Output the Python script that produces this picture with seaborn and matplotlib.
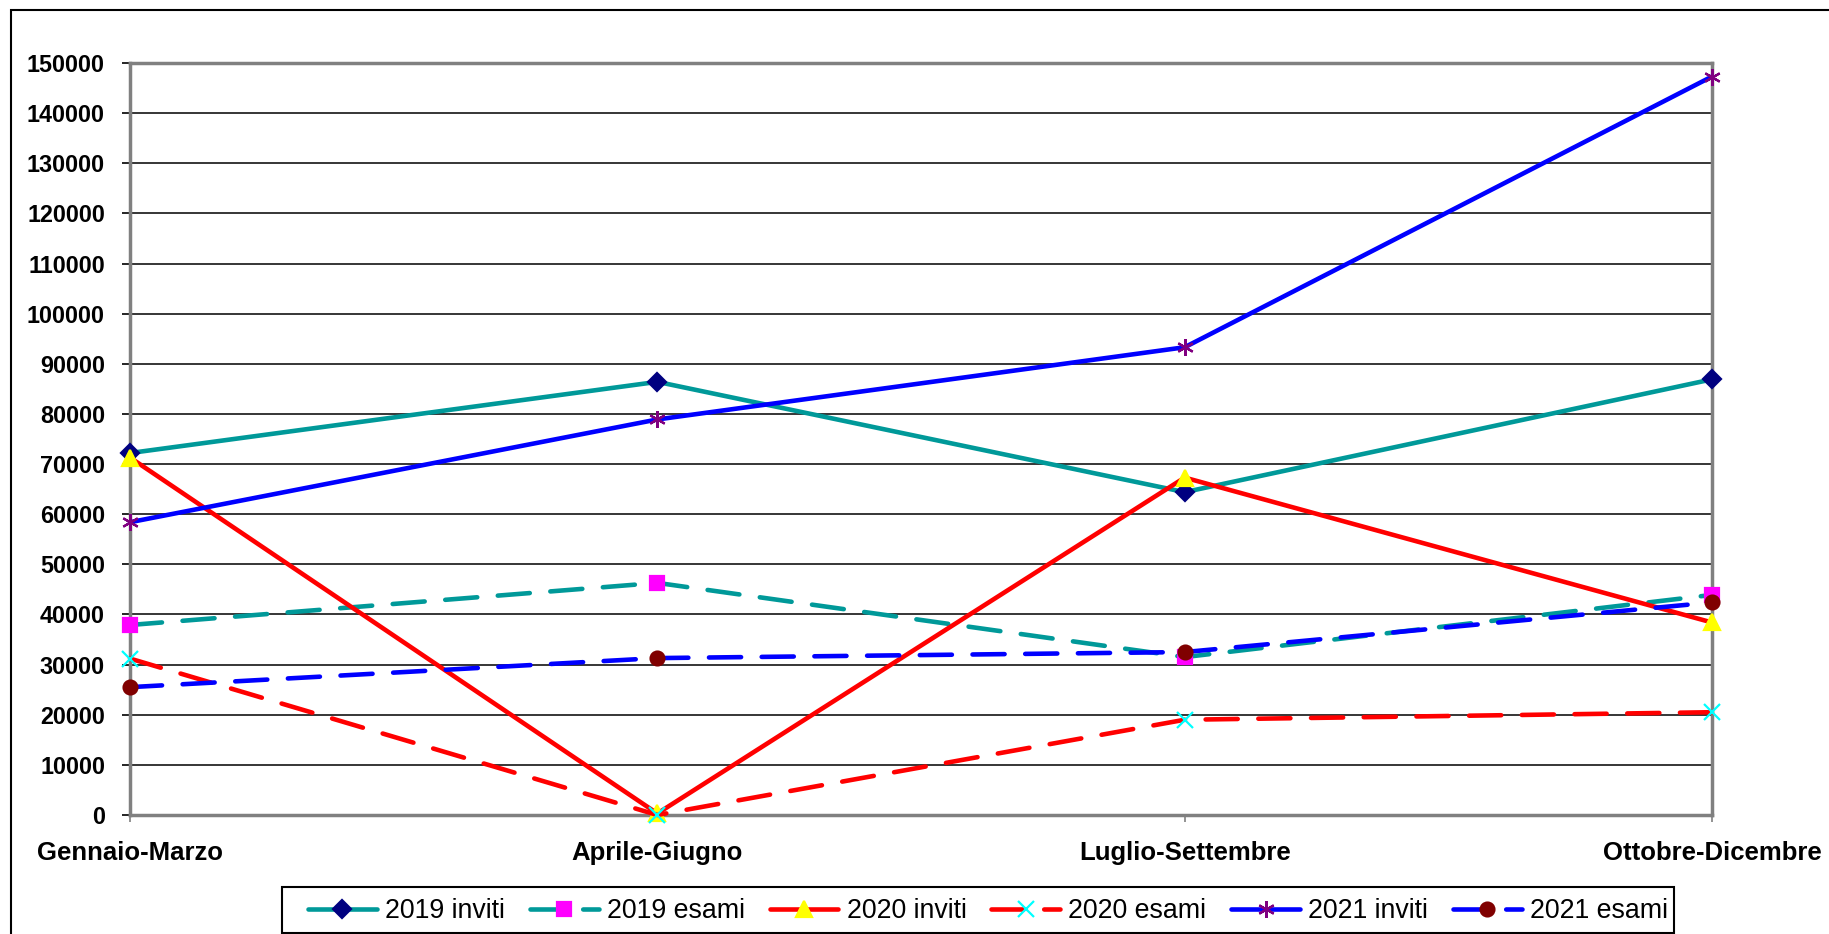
import matplotlib
matplotlib.use("Agg")
import matplotlib.pyplot as plt
from matplotlib.patches import Rectangle
import numpy as np
import pandas as pd
import seaborn as sns

# dati
periodi = ["Gennaio-Marzo", "Aprile-Giugno", "Luglio-Settembre", "Ottobre-Dicembre"]
inviti_2019 = [72200, 86400, 64400, 86900]
esami_2019 = [37900, 46300, 31500, 43900]
inviti_2020 = [71300, 300, 67300, 38400]
esami_2020 = [31200, 0, 19000, 20500]
inviti_2021 = [58400, 78900, 93300, 147300]
esami_2021 = [25500, 31300, 32500, 42400]

serie = ["2019 inviti", "2019 esami", "2020 inviti", "2020 esami", "2021 inviti", "2021 esami"]
valori = [inviti_2019, esami_2019, inviti_2020, esami_2020, inviti_2021, esami_2021]

colori_linea = ["#009999", "#009999", "#ff0000", "#ff0000", "#0000ff", "#0000ff"]
tratti = ["-", "--", "-", "--", "-", "--"]
marcatori = ["D", "s", "^", "x", (6, 2, 0), "o"]
dim_marcatori = [9, 10, 12, 11, 12, 10]
colori_marcatore = ["#000080", "#ff00ff", "#ffff00", "#00ffff", "#800080", "#800000"]

df = pd.DataFrame({
    "serie": np.repeat(serie, len(periodi)),
    "periodo": periodi * len(serie),
    "valore": np.concatenate(valori),
})
df["pos"] = df["periodo"].map({p: i for i, p in enumerate(periodi)})

sns.set_style("white")
plt.rcParams["font.family"] = ["Liberation Sans", "DejaVu Sans"]
plt.rcParams["text.color"] = "black"
plt.rcParams["xtick.labelcolor"] = "black"
plt.rcParams["ytick.labelcolor"] = "black"

W, H = 1829, 934
fig = plt.figure(figsize=(W / 100, H / 100), dpi=100)
ax = fig.add_axes([130 / W, 1 - 815 / H, (1712 - 130) / W, (815 - 63) / H])

for i, nome in enumerate(serie):
    sns.lineplot(
        data=df[df["serie"] == nome], x="pos", y="valore", ax=ax,
        color=colori_linea[i], marker=marcatori[i],
        markersize=dim_marcatori[i], markerfacecolor=colori_marcatore[i],
        markeredgecolor=colori_marcatore[i], markeredgewidth=1.6,
        clip_on=False, zorder=3 + i, label=nome, legend=False,
    )
    linea = ax.lines[-1]
    linea.set_linewidth(3.3)
    if tratti[i] == "--":
        linea.set_dashes((7, 4.5))
        linea.set_dash_capstyle("round")

ax.set_xlim(0, len(periodi) - 1)
ax.set_ylim(0, 150000)
ax.set_yticks(np.arange(0, 150001, 10000))
ax.set_xticks(range(len(periodi)))
ax.set_xticklabels(periodi)
ax.set_xlabel("")
ax.set_ylabel("")

ax.yaxis.grid(True, color="black", lw=1.1)
ax.xaxis.grid(False)
ax.set_axisbelow(True)
for sp in ax.spines.values():
    sp.set_visible(True)
    sp.set_color("#808080")
    sp.set_linewidth(2.5)

ax.tick_params(axis="y", direction="out", length=6, width=1.2, color="black",
               pad=12, labelsize=16.8, left=True)
ax.tick_params(axis="x", direction="out", length=5, width=1.2, color="#808080",
               pad=14, labelsize=18.5, bottom=True)
for t in ax.get_xticklabels() + ax.get_yticklabels():
    t.set_fontweight("bold")

leg = fig.legend(
    ax.lines[:len(serie)], serie, loc="center left",
    bbox_to_anchor=(308 / W, 1 - 911 / H), ncol=6, frameon=False,
    fontsize=19.3, handlelength=2.57, handletextpad=0.3,
    columnspacing=0.93, borderaxespad=0, borderpad=0,
)

# riquadro della legenda e cornice esterna del grafico
fig.patches.append(Rectangle((282 / W, 1 - 933 / H), (1674 - 282) / W, 46 / H,
                             transform=fig.transFigure, fill=False,
                             edgecolor="black", lw=1.5))
fig.patches.append(Rectangle((11 / W, -0.1), 1.2, 1 - 10 / H + 0.1,
                             transform=fig.transFigure, fill=False,
                             edgecolor="black", lw=1.5))

fig.savefig("out.png", dpi=100)
